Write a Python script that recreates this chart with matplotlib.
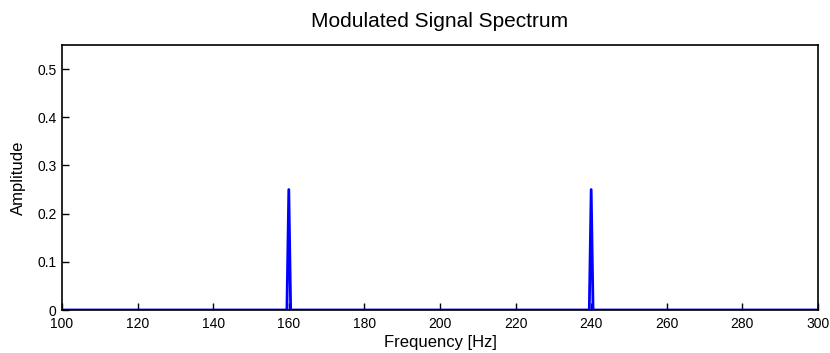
import matplotlib
matplotlib.use("Agg")
import matplotlib.pyplot as plt

freq = [100, 159.5, 160, 160.5, 239.5, 240, 240.5, 300]
amp = [0, 0, 0.25, 0, 0, 0.25, 0, 0]
xticks = [100, 120, 140, 160, 180, 200, 220, 240, 260, 280, 300]
yticks = [0, 0.1, 0.2, 0.3, 0.4, 0.5]

plt.rcParams['font.family'] = ['Liberation Sans', 'DejaVu Sans']
fig = plt.figure(figsize=(8.3, 3.53), dpi=100)
ax = fig.add_axes([0.0747, 0.1218, 0.9108, 0.7507])
ax.plot(freq, amp, color='#0000ff', linewidth=2)
ax.set_xlim(100, 300)
ax.set_ylim(0, 0.55)
ax.set_xticks(xticks)
ax.set_xticklabels([str(t) for t in xticks])
ax.set_yticks(yticks)
ax.set_yticklabels(['0', '0.1', '0.2', '0.3', '0.4', '0.5'])
ax.tick_params(direction='in', length=5, width=1, labelsize=10, top=False, right=False)
ax.tick_params(axis='x', pad=5)
ax.tick_params(axis='y', pad=4)
for s in ax.spines.values():
    s.set_linewidth(1.2)
ax.set_xlabel('Frequency [Hz]', fontsize=12, labelpad=3)
ax.set_ylabel('Amplitude', fontsize=12, labelpad=8)
ax.set_title('Modulated Signal Spectrum', fontsize=15, pad=13)
fig.savefig('out.png', dpi=100)
